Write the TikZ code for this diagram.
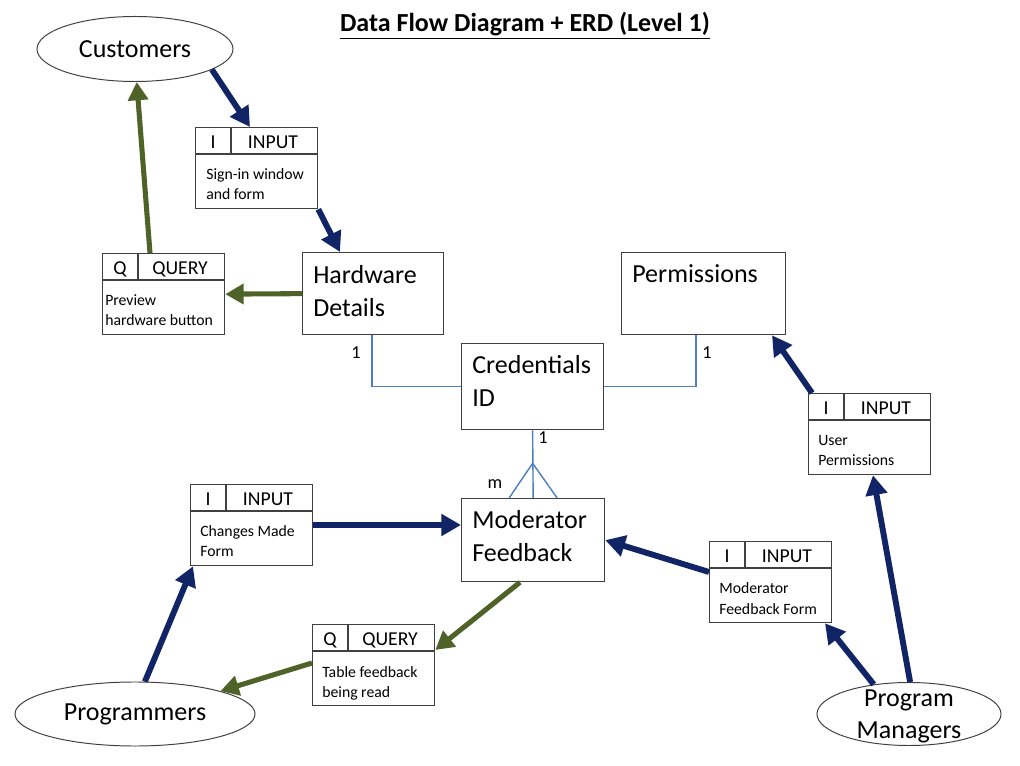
\documentclass[tikz,border=0pt]{standalone}
\usepackage{fontspec}
\setmainfont{Carlito}
\usetikzlibrary{arrows.meta,calc,shapes.geometric}
\definecolor{navyarrow}{RGB}{16,36,102}
\definecolor{olivearrow}{RGB}{79,98,40}
\definecolor{erdblue}{RGB}{74,126,197}
\definecolor{boxgray}{RGB}{64,64,64}
\tikzset{
 boxline/.style={draw=boxgray, line width=0.9pt},
 entity/.style={boxline, rectangle, inner sep=0pt, anchor=north west},
 iob/.style={boxline, rectangle, inner sep=0pt, anchor=north west, minimum width=3.05cm, minimum height=2.025cm},
 ext/.style={draw=boxgray, line width=0.7pt, ellipse, inner sep=0pt},
 bigtxt/.style={font=\fontsize{18.5}{23.5}\selectfont, inner sep=0pt},
 hdrtxt/.style={font=\fontsize{14}{16}\selectfont, inner sep=0pt, anchor=base},
 bodytxt/.style={font=\fontsize{11.2}{14.2}\selectfont, inner sep=0pt, anchor=base west},
 card/.style={font=\fontsize{13}{15}\selectfont, inner sep=0pt},
 inflow/.style={draw=navyarrow, line width=4.2pt, -{Triangle[length=14pt,width=15pt]}},
 outflow/.style={draw=olivearrow, line width=3.6pt, -{Triangle[length=13pt,width=14pt]}},
 erd/.style={draw=erdblue, line width=1pt},
}
% name, x, y, letter, word, line1, line2, body x offset
\newcommand\iobox[8]{%
 \node[iob] (#1) at (#2,#3) {};
 \draw[boxline, line width=1.3pt] ($(#1.north west)+(0,27)$) -- ($(#1.north east)+(0,27)$);
 \draw[boxline] ($(#1.north west)+(36,0)$) -- ($(#1.north west)+(36,27)$);
 \node[hdrtxt] (#1-l) at ($(#1.north west)+(18,21.5)$) {#4};
 \node[hdrtxt] (#1-w) at ($(#1.north west)+(78,21.5)$) {#5};
 \node[bodytxt] (#1-a) at ($(#1.north west)+(#8,53)$) {#6};
 \node[bodytxt] (#1-b) at ($(#1.north west)+(#8,73)$) {#7};
}
\begin{document}
\begin{tikzpicture}[x=0.025cm, y=-0.025cm]
\useasboundingbox (0,0) rectangle (1020,766);

% title
\node[font=\fontsize{18.5}{22}\selectfont\bfseries, inner sep=0pt, anchor=base] (title) at (525,32) {\underline{Data Flow Diagram + ERD (Level 1)}};

% external entities
\node[ext, minimum width=4.9cm, minimum height=1.625cm, bigtxt, draw=boxgray] (cust) at (135,49) {Customers};
\node[ext, minimum width=6cm, minimum height=1.6cm, bigtxt, draw=boxgray] (prog) at (135,714) {Programmers};
\node[ext, minimum width=4.6cm, minimum height=1.575cm] (pm) at (909,714) {};
\node[bigtxt, anchor=base] (pm-a) at (909,706) {Program};
\node[bigtxt, anchor=base] (pm-b) at (909,738) {Managers};

% data entities
\node[entity, minimum width=3.525cm, minimum height=2.05cm] (hw) at (302,252) {};
\node[bigtxt, anchor=base west] (hw-a) at ($(hw.north west)+(11,32)$) {Hardware};
\node[bigtxt, anchor=base west] (hw-b) at ($(hw.north west)+(11,65)$) {Details};

\node[entity, minimum width=4.1cm, minimum height=2.05cm] (perm) at (621,252) {};
\node[bigtxt, anchor=base west] (perm-a) at ($(perm.north west)+(11,31)$) {Permissions};

\node[entity, minimum width=3.55cm, minimum height=2.15cm] (cred) at (461,343) {};
\node[bigtxt, anchor=base west] (cred-a) at ($(cred.north west)+(11,31)$) {Credentials};
\node[bigtxt, anchor=base west] (cred-b) at ($(cred.north west)+(11,64)$) {ID};

\node[entity, minimum width=3.575cm, minimum height=2.075cm] (mod) at (461,498) {};
\node[bigtxt, anchor=base west] (mod-a) at ($(mod.north west)+(11,31)$) {Moderator};
\node[bigtxt, anchor=base west] (mod-b) at ($(mod.north west)+(11,64)$) {Feedback};

% input / query boxes
\iobox{in1}{195}{127}{I}{INPUT}{Sign-in window}{and form}{11}
\iobox{q1}{102}{253}{Q}{QUERY}{Preview}{hardware button}{3}
\iobox{in2}{190}{484}{I}{INPUT}{Changes Made}{Form}{10}
\iobox{q2}{312}{624}{Q}{QUERY}{Table feedback}{being read}{10}
\iobox{in3}{709}{541}{I}{INPUT}{Moderator}{Feedback Form}{10}
\iobox{in4}{808}{393}{I}{INPUT}{User}{Permissions}{10}

% ERD relations
\draw[erd] ($(hw.south west)+(70,0)$) |- (cred.west);
\draw[erd] ($(perm.south west)+(75,0)$) |- (cred.east);
\draw[erd] (cred.south) -- (mod.north);
\coordinate (crow) at ($(cred.south)+(0,33)$);
\draw[erd] ($(mod.north)+(-24,0)$) -- (crow) -- ($(mod.north)+(24,0)$);
\node[card] (c1) at (356,353) {1};
\node[card] (c2) at (707,353) {1};
\node[card] (c3) at (543,438) {1};
\node[card] (c4) at (495,484) {m};

% data flows
\draw[inflow] (cust.-15) -- ($(in1.north west)+(55,0)$);
\draw[inflow] (in1.south east) -- ($(hw.north west)+(38,0)$);
\draw[outflow] (hw.west) -- (q1.east);
\draw[outflow] ($(q1.north west)+(48,0)$) -- (cust.-87);
\draw[inflow] ($(in2.north east)+(0,41)$) -- ($(mod.north west)+(0,27)$);
\draw[inflow] ($(in3.north west)+(0,31)$) -- (mod.east);
\draw[inflow] (pm.140) -- ($(in3.south west)+(116,0)$);
\draw[inflow] (pm.88) -- ($(in4.south west)+(65,0)$);
\draw[inflow] ($(in4.north west)+(4,0)$) -- ($(perm.south west)+(151,0)$);
\draw[outflow] ($(mod.south west)+(59,0)$) -- ($(q2.north east)+(0,26)$);
\draw[outflow] ($(q2.north west)+(0,39)$) -- (prog.15);
\draw[inflow] (prog.73) -- ($(in2.south west)+(3,0)$);
\end{tikzpicture}
\end{document}
